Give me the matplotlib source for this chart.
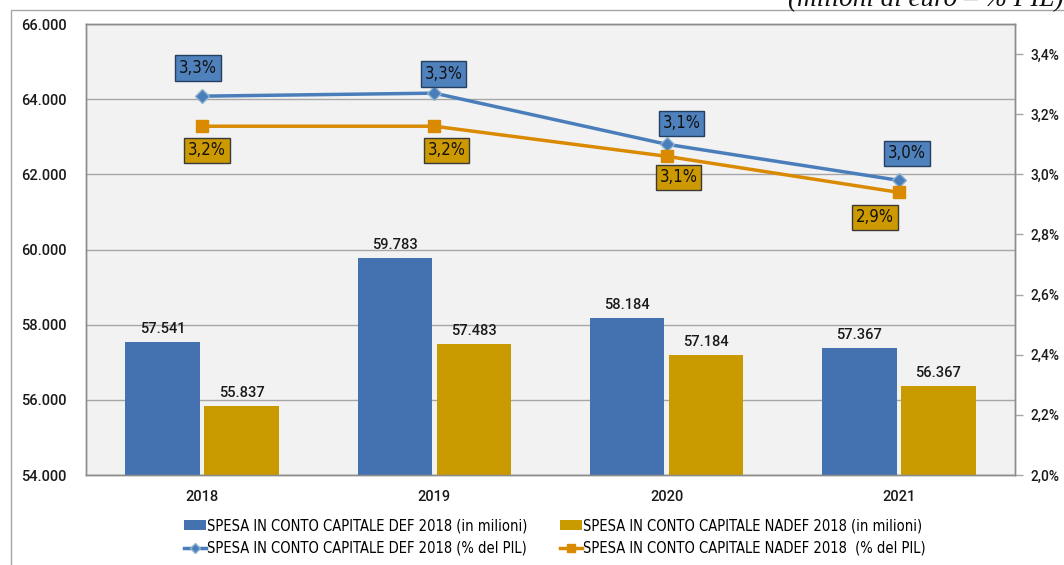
import numpy as np
import matplotlib
matplotlib.use("Agg")
import matplotlib.pyplot as plt
from matplotlib.patches import Patch, Rectangle
from matplotlib.lines import Line2D
from matplotlib.ticker import FuncFormatter
from matplotlib.font_manager import FontProperties

# ---- data ----
years = ["2018", "2019", "2020", "2021"]
def_mln = [57541, 59783, 58184, 57367]
nadef_mln = [55837, 57483, 57184, 56367]
def_pil = [3.26, 3.27, 3.10, 2.98]
nadef_pil = [3.16, 3.16, 3.06, 2.94]
legend_labels = [
    "SPESA IN CONTO CAPITALE DEF 2018 (in milioni)",
    "SPESA IN CONTO CAPITALE NADEF 2018 (in milioni)",
    "SPESA IN CONTO CAPITALE DEF 2018 (% del PIL)",
    "SPESA IN CONTO CAPITALE NADEF 2018  (% del PIL)",
]
unit_note = "(milioni di euro \u2013 % PIL)"

# ---- style ----
BLUE = "#4472B0"
GOLD = "#C99A00"
LBLUE = "#4A7EBB"
ORANGE = "#D98A00"
narrow = FontProperties(family="DejaVu Sans", stretch="condensed", size=10.5)
tickfont = dict(family="Roboto", weight="medium")
def_offsets = [(-4, 28), (9, 19), (15, 21), (8, 27)]
nadef_offsets = [(5, -24), (12, -24), (12, -21), (-24, -25)]

W, H = 1064, 565
fig = plt.figure(figsize=(W / 100, H / 100), dpi=100)
fig.patch.set_facecolor("white")

# outer chart border
fig.add_artist(Rectangle((11 / W, -0.1), 1.2, 1 - 10 / H + 0.1, transform=fig.transFigure,
                         fill=False, ec="#A6A6A6", lw=1.0))
fig.text(1063 / W, 1 - 6 / H, unit_note, ha="right", va="baseline",
         fontsize=19.5, style="italic", family="Liberation Serif", color="#111111")

L, R, T, B = 86, 1015, 24, 475
ax = fig.add_axes([L / W, 1 - B / H, (R - L) / W, (B - T) / H])
ax.set_facecolor("#F2F2F2")
x = np.arange(len(years))
bw = 0.32
off = 0.17
ax.bar(x - off, def_mln, bw, color=BLUE, zorder=3)
ax.bar(x + off, nadef_mln, bw, color=GOLD, zorder=3)
ax.set_xlim(-0.5, len(years) - 0.5)
ax.set_ylim(54000, 66000)
ax.set_yticks(np.arange(54000, 66001, 2000))
ax.yaxis.set_major_formatter(FuncFormatter(lambda v, p: f"{int(v):,}".replace(",", ".")))
ax.set_xticks(x)
ax.set_xticklabels(years)
ax.tick_params(axis="y", length=0, pad=14, labelsize=10.5, labelcolor="#1a1a1a")
ax.tick_params(axis="x", length=0, pad=11, labelsize=10.5, labelcolor="#1a1a1a")
for lab in ax.get_xticklabels() + ax.get_yticklabels():
    lab.set_family("Roboto")
    lab.set_weight("medium")
ax.grid(axis="y", color="#A6A6A6", lw=1, zorder=1)
for s in ax.spines.values():
    s.set_color("#8C8C8C")
    s.set_linewidth(1)

for xs, vals in ((x - off, def_mln), (x + off, nadef_mln)):
    for xi, v in zip(xs, vals):
        ax.annotate(f"{v:,}".replace(",", "."), (xi, v), xytext=(0, 6),
                    textcoords="offset pixels", ha="center", va="bottom",
                    fontsize=10.5, color="#1a1a1a", zorder=5, **tickfont)

ax2 = ax.twinx()
ax2.set_ylim(2.0, 3.5)
ax2.set_yticks(np.arange(2.0, 3.41, 0.2))
ax2.yaxis.set_major_formatter(FuncFormatter(lambda v, p: f"{v:.1f}%".replace(".", ",")))
ax2.tick_params(axis="y", length=6, width=1, color="#A6A6A6", pad=5, labelsize=10,
                labelcolor="#1a1a1a")
for lab in ax2.get_yticklabels():
    lab.set_family("Roboto")
    lab.set_weight("medium")
for s in ax2.spines.values():
    s.set_color("#8C8C8C")
    s.set_linewidth(1)

ax2.plot(x, def_pil, color=LBLUE, lw=2.5, marker="D", ms=7, mfc=LBLUE, mec="#8DB4CC",
         mew=1, zorder=4)
ax2.plot(x, nadef_pil, color=ORANGE, lw=2.5, marker="s", ms=9, mfc=ORANGE, mec=ORANGE,
         zorder=4)

lblfont = FontProperties(family="DejaVu Sans", stretch="condensed", size=12)
for xi, v, o in zip(x, def_pil, def_offsets):
    ax2.annotate(f"{v:.1f}%".replace(".", ","), (xi, v), xytext=o, textcoords="offset pixels",
                 ha="center", va="center", fontproperties=lblfont, color="#111111",
                 bbox=dict(boxstyle="square,pad=0.22", fc="#4F81BD", ec="#243F60", lw=1),
                 zorder=6)
for xi, v, o in zip(x, nadef_pil, nadef_offsets):
    ax2.annotate(f"{v:.1f}%".replace(".", ","), (xi, v), xytext=o, textcoords="offset pixels",
                 ha="center", va="center", fontproperties=lblfont, color="#111111",
                 bbox=dict(boxstyle="square,pad=0.22", fc="#CC9900", ec="#3A3A3A", lw=1),
                 zorder=6)

handles = [
    Patch(fc=BLUE, ec="none"),
    Line2D([], [], color=LBLUE, lw=2.5, marker="D", ms=5, mfc=LBLUE, mec="#8DB4CC"),
    Patch(fc=GOLD, ec="none"),
    Line2D([], [], color=ORANGE, lw=2.5, marker="s", ms=6, mfc=ORANGE, mec=ORANGE),
]
labels = [legend_labels[0], legend_labels[2], legend_labels[1], legend_labels[3]]
fig.legend(handles, labels, ncol=2, loc="center left", bbox_to_anchor=(178 / W, 1 - 537 / H),
           frameon=False, prop=narrow, handlelength=1.5,
           handletextpad=0.1, columnspacing=2.2, labelspacing=0.5, borderaxespad=0)

fig.savefig("out.png", dpi=100)
